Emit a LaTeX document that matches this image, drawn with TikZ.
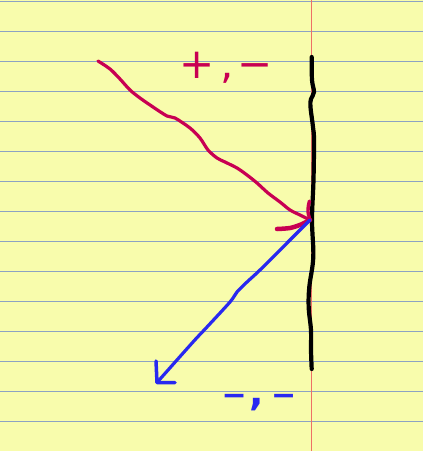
\documentclass[tikz,border=0pt]{standalone}
\usepackage{fontspec}
\usepackage{xcolor}
\usepackage{tikz}
\usetikzlibrary{arrows.meta}
\newfontfamily\handfont{DejaVu Sans}
\definecolor{paper}{RGB}{248,252,172}
\definecolor{rulegray}{RGB}{140,162,195}
\definecolor{margin}{RGB}{238,112,102}
\definecolor{ink}{RGB}{200,0,82}
\definecolor{pen}{RGB}{40,40,240}

\begin{document}
\begin{tikzpicture}[x=1pt, y=-1pt, line cap=round, line join=round,
    handtext/.style={font=\handfont\fontsize{#1}{#1}\selectfont, inner sep=0pt, anchor=base},
    inkline/.style={line width=#1}]

    % --- PAPER: legal pad ---
    \fill[paper] (0,0) rectangle (423,451);
    \useasboundingbox (0,0) rectangle (423,451);
    \foreach \k in {0,...,14}
        \draw[rulegray, inkline=1.5pt] (0,1.5+30*\k) -- (423,1.5+30*\k);
    \draw[margin, inkline=1.2pt] (311.5,0) -- (311.5,451);

    % --- WALL (black, wobbly) ---
    \draw[black, inkline=4.2pt] plot[smooth, tension=0.6] coordinates {
        (311.7,57) (312,80) (314,92) (311,99) (310.5,107) (313,127) (314,140)
        (313.5,180) (312,220) (313.3,257) (309.3,287) (308.7,308) (311,330)
        (311,350) (311.7,369)};

    % Points of the rays
    \coordinate (src) at (98,61);
    \coordinate (hit) at (310,220);
    \coordinate (out) at (157,382.5);

    % --- INCOMING RAY (wavy) ---
    \draw[ink, inkline=3.2pt] plot[smooth, tension=0.5] coordinates {
        (src) (110,69) (120,79) (130,90) (140,98) (153,107) (167,116) (175,118)
        (190,128) (200,138) (208,150) (217,158) (225,162) (237,168) (247,175)
        (257,183) (268,193) (280,202) (290,210) (300,215) (hit)};
    % hand drawn arrow head
    \draw[ink, inkline=3.4pt] plot[smooth] coordinates {(hit) (308,212) (308.5,205) (309.5,201)};
    \draw[ink, inkline=4.5pt] plot[smooth] coordinates {(hit) (301,224.5) (290,228) (277,229)};

    % --- OUTGOING RAY ---
    \draw[pen, inkline=3.2pt] plot[smooth, tension=0.5] coordinates {
        (hit) (290,240) (260,270) (247,282) (237,292) (230,302) (207,327) (193,342) (out)};
    \draw[pen, inkline=3.5pt] (out) ++(-1,-21.5) -- (out) -- ++(18,0);

    % --- SIGN LABELS ---
    \node[handtext=42, ink] (signin) at (226,78) {+\hspace{6pt},\hspace{4pt}−};
    \node[handtext=30, pen] (signout) at (259,405.5) {\bfseries −\hspace{3pt}{\fontsize{38}{38}\selectfont ,}\hspace{7pt}−};

\end{tikzpicture}
\end{document}
